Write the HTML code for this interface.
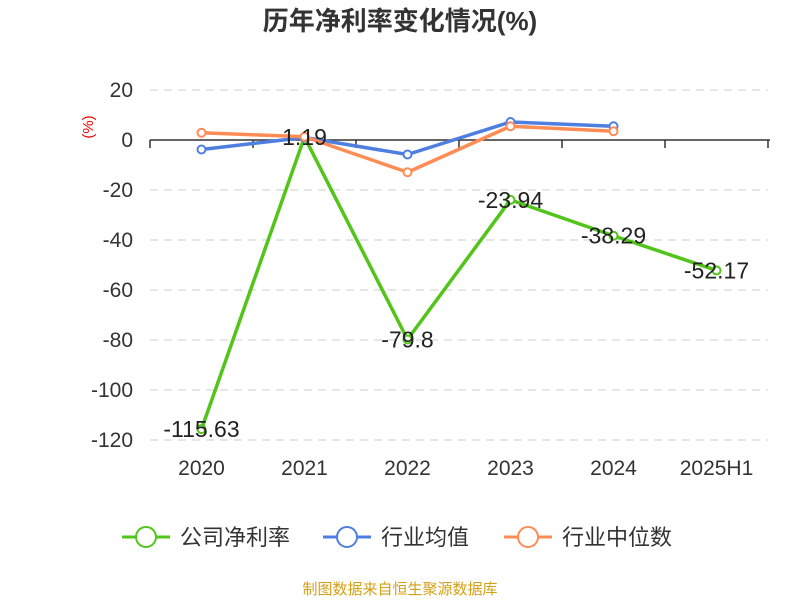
<!DOCTYPE html>
<html><head><meta charset="utf-8"><style>
body{margin:0;background:#fff;width:800px;height:600px;overflow:hidden}
svg{display:block;font-family:"Liberation Sans","Noto Sans CJK SC",sans-serif}
</style></head><body>
<svg id="c" width="800" height="600">
<text x="400" y="30" text-anchor="middle" font-size="26" font-weight="bold" fill="#333">历年净利率变化情况(%)</text>
<text x="93" y="127" transform="rotate(-90 93 127)" text-anchor="middle" font-size="15" fill="#e00">(%)</text>
<g id="grid"></g><g id="axes"></g><g id="series"></g>
<g id="legend"></g>
<text x="400" y="594" text-anchor="middle" font-size="15" fill="#d4a017">制图数据来自恒生聚源数据库</text>
</svg>
<script>
const categories=["2020","2021","2022","2023","2024","2025H1"];
const companyValues=[-115.63,1.19,-79.8,-23.94,-38.29,-52.17];
const industryAvg=[-3.8,1.0,-5.8,7.2,5.5,null];
const industryMedian=[2.9,1.3,-12.9,5.5,3.5,null];
const yTicks=[20,0,-20,-40,-60,-80,-100,-120];
const companyLabels=["-115.63","1.19","-79.8","-23.94","-38.29","-52.17"];
const NS="http://www.w3.org/2000/svg";
const x0=150,x1=768,band=(x1-x0)/categories.length;
const X=i=>x0+band*(i+0.5);
const Y=v=>140-(v*2.5);
function el(t,a,p){const e=document.createElementNS(NS,t);for(const k in a)e.setAttribute(k,a[k]);document.getElementById(p).appendChild(e);return e;}
yTicks.forEach(v=>{
 if(v!==0){const g=el('line',{x1:x0,x2:x1,y1:Y(v),y2:Y(v),stroke:'#ccc','stroke-dasharray':'8,6'},'grid');
 
 }
 const t=el('text',{x:x0-17,y:Y(v)+7,'text-anchor':'end','font-size':21,fill:'#333'},'axes');t.textContent=v;
 
 
});
const ax=el('line',{x1:x0,x2:x1+2,y1:Y(0),y2:Y(0),stroke:'#333','stroke-width':1.5},'axes');


for(let i=0;i<=categories.length;i++){const tk=el('line',{x1:x0+band*i,x2:x0+band*i,y1:Y(0),y2:Y(0)+8,stroke:'#333','stroke-width':1.5},'axes');
 
 }
categories.forEach((c,i)=>{const t=el('text',{x:X(i),y:475,'text-anchor':'middle','font-size':21,fill:'#333'},'axes');t.textContent=c;
 
 });
function series(vals,color,name){
 const pts=vals.map((v,i)=>v==null?null:[X(i),Y(v)]).filter(p=>p);
 const pl=el('polyline',{points:pts.map(p=>p.join(',')).join(' '),fill:'none',stroke:color,'stroke-width':3.5,'stroke-linejoin':'round'},'series');
 
 
 pts.forEach(p=>{const c=el('circle',{cx:p[0],cy:p[1],r:4,fill:'#fff',stroke:color,'stroke-width':2},'series');
  
  });
}
series(companyValues,'#52c41a','company-net-margin');
series(industryAvg,'#4e7fe0','industry-average');
series(industryMedian,'#ff8c55','industry-median');
companyValues.forEach((v,i)=>{const t=el('text',{x:X(i),y:Y(v)+8,'text-anchor':'middle','font-size':23,fill:'#222'},'series');t.textContent=companyLabels[i];
 
 });
const leg=[["公司净利率","#52c41a",122],["行业均值","#4e7fe0",323],["行业中位数","#ff8c55",504]];
leg.forEach(l=>{
 const g=el('g',{},'legend');
 
 
 const a=document.createElementNS(NS,'line');a.setAttribute('x1',l[2]);a.setAttribute('x2',l[2]+48);a.setAttribute('y1',537);a.setAttribute('y2',537);a.setAttribute('stroke',l[1]);a.setAttribute('stroke-width',3);g.appendChild(a);
 const c=document.createElementNS(NS,'circle');c.setAttribute('cx',l[2]+24);c.setAttribute('cy',537);c.setAttribute('r',10);c.setAttribute('fill','#fff');c.setAttribute('stroke',l[1]);c.setAttribute('stroke-width',2);g.appendChild(c);
 const t=document.createElementNS(NS,'text');t.setAttribute('x',l[2]+58);t.setAttribute('y',545);t.setAttribute('font-size',22);t.setAttribute('fill','#333');t.textContent=l[0];g.appendChild(t);
});
</script>
</body></html>
